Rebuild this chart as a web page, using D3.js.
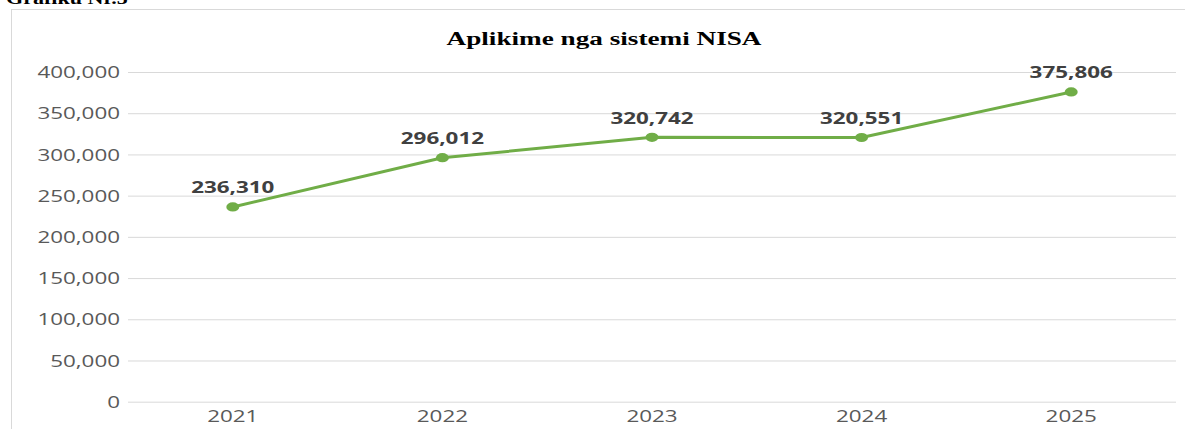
<!DOCTYPE html>
<html>
<head>
<meta charset="utf-8">
<script src="https://cdn.jsdelivr.net/npm/d3@7"></script>
<style>
  html, body { margin: 0; padding: 0; background: #fff; overflow: hidden; }
  svg { display: block; }
</style>
</head>
<body>
<div id="chart"></div>
<script>
// chart data
const years = ["2021", "2022", "2023", "2024", "2025"];
const applications = [236310, 296012, 320742, 320551, 375806];
const yTicks = [0, 50000, 100000, 150000, 200000, 250000, 300000, 350000, 400000];

const W = 1185, H = 429;
// the picture is horizontally stretched, so text gets a x-scale
const sx = 1.4;

const margin = { top: 72, right: 9, bottom: 27.3, left: 128 };
const width = W - margin.left - margin.right,
      height = H - margin.top - margin.bottom;

const svg = d3.select("#chart").append("svg")
    .attr("width", W)
    .attr("height", H);

// caption above the chart frame (cut off at the top)
svg.append("text")
    .attr("transform", "translate(6,3.5) scale(1.38,1)")
    .attr("font-family", "'Liberation Serif', 'Times New Roman', serif")
    .attr("font-weight", "bold")
    .attr("font-size", 16)
    .attr("fill", "#000")
    .text("Grafiku Nr.5");

// chart frame
svg.append("rect")
    .attr("x", 11.5).attr("y", 9.5)
    .attr("width", 1190).attr("height", 440)
    .attr("fill", "#fff")
    .attr("stroke", "#d9d9d9");

svg.append("text")
    .attr("transform", "translate(604,45) scale(1.47,1)")
    .attr("text-anchor", "middle")
    .attr("font-family", "'Liberation Serif', 'Times New Roman', serif")
    .attr("font-weight", "bold")
    .attr("font-size", 18.5)
    .attr("fill", "#000")
    .text("Aplikime nga sistemi NISA");

const g = svg.append("g")
    .attr("transform", "translate(" + margin.left + "," + margin.top + ")");

const x = d3.scaleBand()
    .domain(years)
    .range([0, width]);

const y = d3.scaleLinear()
    .domain([0, 400000])
    .range([height, 0]);

// y axis with gridlines
const yAxis = g.append("g")
    .call(d3.axisLeft(y)
        .tickValues(yTicks)
        .tickSize(-width)
        .tickFormat(d3.format(",")));
yAxis.select(".domain").remove();
yAxis.selectAll(".tick line")
    .attr("stroke", "#d9d9d9")
    .attr("stroke-width", 1);
yAxis.selectAll(".tick text")
    .attr("x", -8 / sx)
    .attr("dy", "0.35em")
    .attr("transform", "scale(" + sx + ",1)")
    .attr("font-family", "'Open Sans', sans-serif")
    .attr("font-size", 16)
    .attr("fill", "#595959");

// x axis
const xAxis = g.append("g")
    .attr("transform", "translate(0," + height + ")")
    .call(d3.axisBottom(x).tickSize(0));
xAxis.select(".domain").remove();
xAxis.selectAll(".tick text")
    .attr("y", 20.5)
    .attr("dy", 0)
    .attr("transform", "scale(" + sx + ",1)")
    .attr("font-family", "'Open Sans', sans-serif")
    .attr("font-size", 16)
    .attr("fill", "#595959");

const cx = d => x(d) + x.bandwidth() / 2;

const line = d3.line()
    .x((d, i) => cx(years[i]))
    .y(d => y(d));

g.append("path")
    .datum(applications)
    .attr("fill", "none")
    .attr("stroke", "#70ad47")
    .attr("stroke-width", 3)
    .attr("stroke-linejoin", "round")
    .attr("d", line);

g.selectAll(".dot")
    .data(applications)
    .enter()
    .append("ellipse")
    .attr("class", "dot")
    .attr("cx", (d, i) => cx(years[i]))
    .attr("cy", d => y(d))
    .attr("rx", 6.5)
    .attr("ry", 4.6)
    .attr("fill", "#70ad47");

// value labels
g.selectAll(".lbl")
    .data(applications)
    .enter()
    .append("text")
    .attr("class", "lbl")
    .attr("transform", (d, i) => "translate(" + cx(years[i]) + "," + (y(d) - 13.5) + ") scale(" + sx + ",1)")
    .attr("text-anchor", "middle")
    .attr("font-family", "'Open Sans', sans-serif")
    .attr("font-weight", "bold")
    .attr("font-size", 16)
    .attr("fill", "#404040")
    .text(d => d3.format(",")(d));
</script>
</body>
</html>
